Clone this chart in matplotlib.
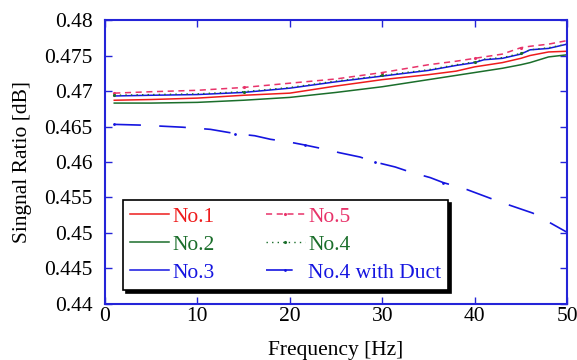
import matplotlib
matplotlib.use("Agg")
import matplotlib.pyplot as plt
import numpy as np

plt.rcParams['font.family'] = ['Liberation Serif', 'DejaVu Serif']

# Frequency grid [Hz]
freq = [1, 5, 10, 15, 20, 25, 30, 35, 38, 40, 41, 43, 45, 46, 48, 50]

no1 = [0.4687, 0.4688, 0.4690, 0.4694, 0.4697, 0.4707, 0.4716, 0.4723, 0.4728, 0.4734,
       0.4736, 0.4740, 0.4746, 0.4750, 0.4755, 0.4756]
no2 = [0.4683, 0.4683, 0.4684, 0.4687, 0.4691, 0.4698, 0.4706, 0.4716, 0.4722, 0.4726,
       0.4728, 0.4732, 0.4737, 0.4740, 0.4748, 0.4751]
no3 = [0.4693, 0.4694, 0.4695, 0.4698, 0.4704, 0.4713, 0.4721, 0.4729, 0.4736, 0.4740,
       0.4744, 0.4746, 0.4752, 0.4758, 0.4760, 0.4766]
no5 = [0.4697, 0.4699, 0.4701, 0.4705, 0.4711, 0.4717, 0.4726, 0.4737, 0.4742, 0.4746,
       0.4748, 0.4752, 0.4761, 0.4763, 0.4766, 0.4771]
no4 = [0.4694, 0.4695, 0.4696, 0.4699, 0.4705, 0.4714, 0.4722, 0.4730, 0.4737, 0.4741,
       0.4745, 0.4747, 0.4753, 0.4758, 0.4761, 0.4766]

duct_freq = [1, 3.8, 8.4, 11.4, 14.1, 16.2, 17.9, 20.0, 21.6, 23.8, 25.4, 27.6, 29.2,
             31.4, 33.0, 35.2, 36.6, 39.0, 42.7, 46.3, 50]
duct = [0.4653, 0.4652, 0.4649, 0.4646, 0.4640, 0.4637, 0.4632, 0.4628, 0.4624, 0.4618,
        0.4613, 0.4607, 0.4600, 0.4593, 0.4586, 0.4578, 0.4571, 0.4562, 0.4544, 0.4528, 0.4501]

xticks = [0, 10, 20, 30, 40, 50]
yticks = [0.44, 0.445, 0.45, 0.455, 0.46, 0.465, 0.47, 0.475, 0.48]
ytick_labels = ['0.44', '0.445', '0.45', '0.455', '0.46', '0.465', '0.47', '0.475', '0.48']

RED = '#ee1c1c'
GREEN = '#1b6e2b'
BLUE = '#1515e0'
PINK = '#e8336a'
SPINE = '#2424d8'
FS = 15.5

fig = plt.figure(figsize=(5.77, 3.6), dpi=100)
ax = fig.add_axes([0.182, 0.1556, 0.8007, 0.7888])

l1, = ax.plot(freq, no1, color=RED, lw=1.1, label='No.1')
l2, = ax.plot(freq, no2, color=GREEN, lw=1.1, label='No.2')
l3, = ax.plot(freq, no3, color=BLUE, lw=1.1, label='No.3')
l5, = ax.plot(freq, no5, color=PINK, lw=1.1, ls=(0, (4, 3)), marker='.', ms=2.5,
              markevery=3, label='No.5')
l4, = ax.plot(freq, no4, color=GREEN, lw=1.0, ls=(0, (1, 3)), marker='.', ms=2.5,
              markevery=3, label='No.4')
ld, = ax.plot(duct_freq, duct, color=BLUE, lw=1.2, ls=(0, (16, 11)), marker='.', ms=2,
              markevery=4, label='No.4 with Duct')

ax.set_xlim(0, 50)
ax.set_ylim(0.44, 0.48)
ax.set_xticks(xticks)
ax.set_yticks(yticks)
ax.set_yticklabels(ytick_labels)
ax.tick_params(direction='in', length=5, width=1.0, color=SPINE, labelsize=FS,
               top=True, right=True)
ax.tick_params(axis='x', pad=2)
ax.tick_params(axis='y', pad=9)
for s in ax.spines.values():
    s.set_color(SPINE)
    s.set_linewidth(1.5)

ax.set_xlabel('Frequency [Hz]', fontsize=FS, labelpad=11)
ax.set_ylabel('Singnal Ratio [dB]', fontsize=FS, labelpad=9)

leg = ax.legend(handles=[l1, l2, l3, l5, l4, ld], ncol=2, loc='lower left',
                bbox_to_anchor=(0.039, 0.049), frameon=True, fancybox=False,
                edgecolor='black', framealpha=1, fontsize=FS,
                shadow={'color': 'black', 'alpha': 1},
                labelcolor='linecolor', handlelength=1.8, handletextpad=0.15,
                columnspacing=2.4, labelspacing=0.37, borderpad=0.33,
                borderaxespad=0)
leg.get_frame().set_linewidth(1.2)

fig.savefig('out.png', dpi=100)
